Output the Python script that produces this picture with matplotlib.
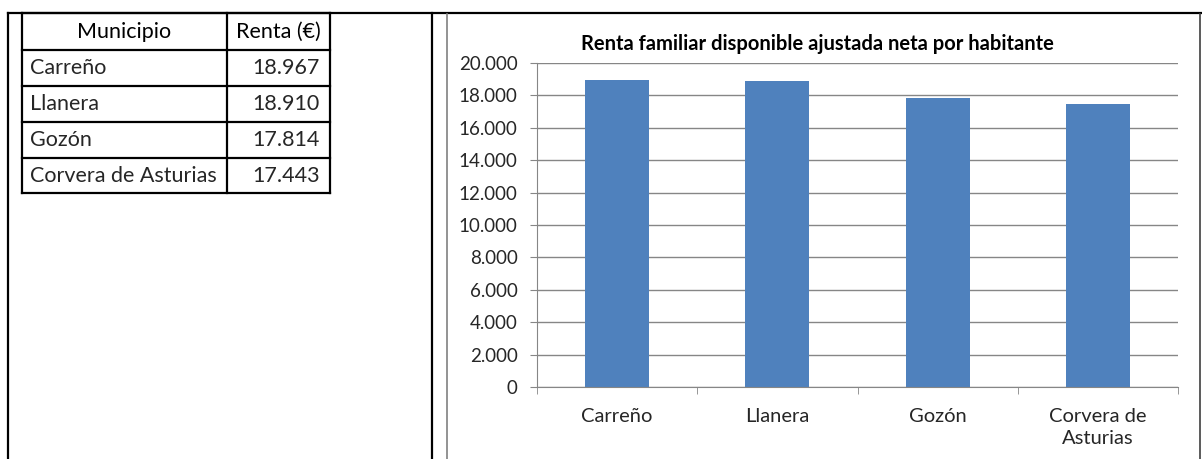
import matplotlib.pyplot as plt
from matplotlib.lines import Line2D

municipios = ["Carreño", "Llanera", "Gozón", "Corvera de Asturias"]
renta = [18967, 18910, 17814, 17443]
etiquetas_x = ["Carreño", "Llanera", "Gozón", "Corvera de\nAsturias"]
cabecera = ["Municipio", "Renta (€)"]
titulo = "Renta familiar disponible ajustada neta por habitante"

W, H = 1202, 459
plt.rcParams['font.family'] = ['Lato', 'DejaVu Sans']

fig = plt.figure(figsize=(W / 100, H / 100), dpi=100)


def fx(x):
    return x / W


def fy(y):
    return 1 - y / H


def linea(x0, y0, x1, y1, color="black", lw=1.6):
    fig.add_artist(Line2D([fx(x0), fx(x1)], [fy(y0), fy(y1)], color=color,
                          lw=lw, transform=fig.transFigure))


def fmt(v):
    return f"{v:,.0f}".replace(",", ".")


# marco del documento
linea(8, 13, 1202, 13)
linea(8, 13, 8, 459)
linea(432, 13, 432, 459)
linea(447, 14, 447, 459, color="#808080", lw=1.2)
linea(1200, 14, 1200, 459, color="#404040", lw=1.2)

# tabla
filas_y = [13, 50, 86, 122, 158, 193]
col_x = [22, 227, 330]
for y in filas_y:
    linea(col_x[0], y, col_x[-1], y)
for x in col_x:
    linea(x, filas_y[0], x, filas_y[-1])

fig.text(fx((col_x[0] + col_x[1]) / 2), fy((filas_y[0] + filas_y[1]) / 2),
         cabecera[0], ha="center", va="center", fontsize=15.5, color="black")
fig.text(fx((col_x[1] + col_x[2]) / 2), fy((filas_y[0] + filas_y[1]) / 2),
         cabecera[1], ha="center", va="center", fontsize=15.5, color="black")
for i, (m, r) in enumerate(zip(municipios, renta)):
    yc = (filas_y[i + 1] + filas_y[i + 2]) / 2
    fig.text(fx(col_x[0] + 8), fy(yc), m, ha="left", va="center",
             fontsize=15.5, color="#262626")
    fig.text(fx(col_x[2] - 10), fy(yc), fmt(r), ha="right", va="center",
             fontsize=15.5, color="#262626")

# grafico
ax = fig.add_axes([fx(537), fy(387), fx(1178) - fx(537), fy(63) - fy(387)])
ax.bar(range(len(renta)), renta, width=0.4, color="#4f81bd")
ax.set_xlim(-0.5, len(renta) - 0.5)
ax.set_ylim(0, 20000)
ax.set_yticks(range(0, 20001, 2000))
ax.set_yticklabels([fmt(v) for v in range(0, 20001, 2000)])
ax.set_xticks(range(len(renta)))
ax.set_xticklabels(etiquetas_x, linespacing=1.35)
ax.set_xticks([i - 0.5 for i in range(len(renta) + 1)], minor=True)
ax.tick_params(axis="x", which="major", length=0, pad=15, labelsize=14.5,
               labelcolor="#262626")
ax.tick_params(axis="x", which="minor", length=5, color="#868686")
ax.tick_params(axis="y", length=5, color="#868686", labelsize=13.5,
               labelcolor="#262626", pad=9)
ax.grid(axis="y", color="#868686", lw=1)
ax.set_axisbelow(True)
for s in ["top", "right"]:
    ax.spines[s].set_visible(False)
ax.spines["left"].set_color("#868686")
ax.spines["bottom"].set_color("#868686")

fig.text(fx(817), fy(44), titulo, ha="center", va="center", fontsize=14.5,
         fontweight="bold", color="black")

fig.savefig("out.png", dpi=100)
